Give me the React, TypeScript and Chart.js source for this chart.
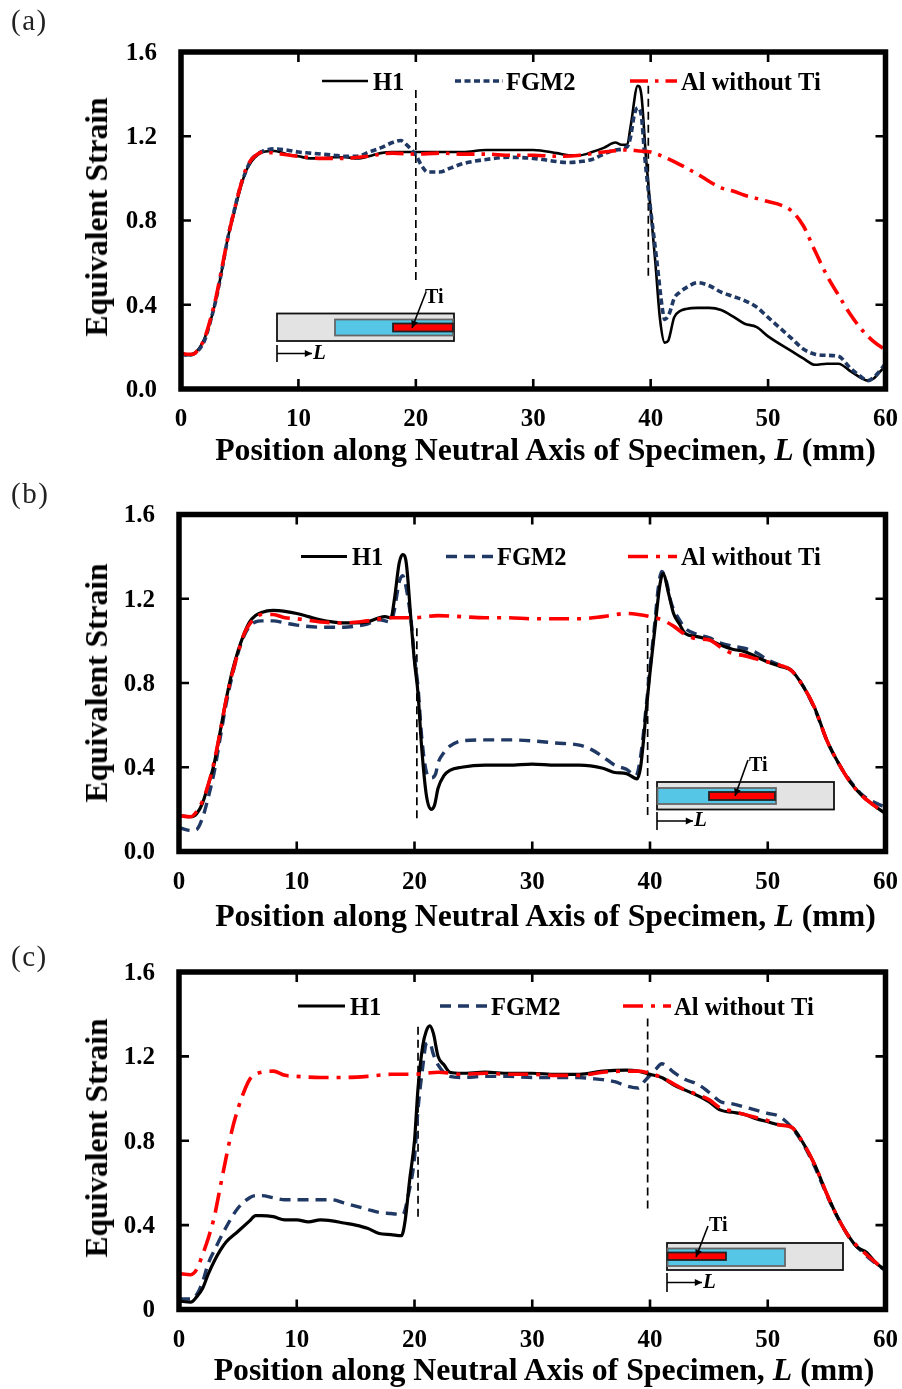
import React, { useEffect, useRef } from "react";
import { Chart, registerables } from "chart.js";

Chart.register(...registerables);

type Pair = [number, number];

const seriesNames = ["H1", "FGM2", "Al without Ti"];
const xTicks = [0, 10, 20, 30, 40, 50, 60];
const yTicks = [0, 0.4, 0.8, 1.2, 1.6];
const yLabelsAB = ["0.0", "0.4", "0.8", "1.2", "1.6"];
const yLabelsC = ["0", "0.4", "0.8", "1.2", "1.6"];
const yTitle = "Equivalent Strain";

const aH1: Pair[] = [[0,.17],[.5,.16],[1,.165],[1.5,.19],[2,.24],[2.5,.32],[3,.43],[3.5,.57],[4,.72],[4.5,.83],[5,.94],[5.5,1.03],[6,1.08],[6.5,1.11],[7,1.125],[8,1.13],[9,1.115],[10,1.105],[11,1.095],[12,1.095],[13,1.1],[14,1.1],[15,1.095],[16,1.105],[17,1.12],[18,1.125],[20,1.125],[22,1.125],[24,1.125],[26,1.135],[28,1.135],[30,1.135],[32,1.12],[33,1.11],[34,1.11],[35,1.125],[36,1.145],[37,1.17],[37.5,1.16],[38,1.16],[38.3,1.25],[38.9,1.44],[39.2,1.4],[39.6,1.1],[40,.85],[40.4,.6],[40.8,.33],[41.2,.22],[41.5,.23],[42,.34],[42.5,.37],[43,.38],[44,.385],[45,.385],[46,.375],[47,.345],[48,.31],[49,.295],[50,.25],[52,.18],[53,.145],[54,.115],[55,.12],[56,.12],[57,.085],[58,.05],[58.5,.04],[59,.05],[59.5,.08],[60,.11]];
const aFGM: Pair[] = [[0,.17],[.5,.16],[1,.165],[1.5,.185],[2,.23],[2.5,.32],[3,.43],[3.5,.57],[4,.72],[4.5,.84],[5,.95],[5.5,1.03],[6,1.09],[6.5,1.115],[7,1.13],[8,1.14],[9,1.135],[10,1.125],[11,1.12],[12,1.115],[13,1.11],[14,1.105],[15,1.105],[16,1.125],[17,1.145],[18,1.17],[18.7,1.18],[19.2,1.16],[20,1.11],[20.5,1.06],[21,1.03],[22,1.03],[23,1.05],[24,1.07],[26,1.09],[28,1.1],[30,1.095],[32,1.08],[33,1.075],[34,1.08],[35,1.09],[36,1.115],[37,1.135],[38,1.15],[38.3,1.2],[38.6,1.3],[38.9,1.335],[39.2,1.3],[39.5,1.1],[40,.85],[40.5,.62],[41,.38],[41.2,.33],[41.6,.36],[42,.43],[42.5,.46],[43,.48],[44,.505],[45,.49],[46,.46],[47,.44],[48,.42],[49,.39],[50,.34],[51,.29],[52,.24],[53,.19],[54,.165],[55,.16],[56,.155],[57,.1],[58,.055],[58.5,.04],[59,.055],[59.5,.085],[60,.12]];
const aAl: Pair[] = [[0,.17],[.5,.165],[1,.165],[1.5,.19],[2,.24],[2.5,.33],[3,.44],[3.5,.58],[4,.72],[4.5,.84],[5,.95],[5.5,1.04],[6,1.09],[6.5,1.115],[7,1.125],[8,1.12],[10,1.105],[12,1.095],[14,1.095],[15,1.1],[16,1.105],[17,1.115],[18,1.12],[20,1.115],[22,1.12],[24,1.115],[26,1.115],[28,1.11],[30,1.11],[32,1.105],[34,1.11],[36,1.125],[38,1.135],[39,1.13],[40,1.125],[41,1.105],[42,1.08],[43,1.05],[44,1.02],[45,.985],[46,.955],[47,.94],[48,.92],[49,.905],[50,.89],[51,.875],[52,.845],[53,.775],[54,.655],[55,.54],[56,.445],[57,.355],[58,.28],[59,.225],[60,.185]];

const bH1: Pair[] = [[0,.17],[1,.165],[1.5,.18],[2,.23],[2.5,.32],[3,.42],[3.5,.57],[4,.72],[4.5,.85],[5,.95],[5.5,1.03],[6,1.09],[6.5,1.12],[7,1.135],[8,1.145],[9,1.14],[10,1.13],[11,1.115],[12,1.1],[13,1.09],[14,1.085],[15,1.085],[16,1.09],[17,1.11],[17.5,1.115],[18,1.11],[18.3,1.2],[18.7,1.37],[19,1.41],[19.3,1.37],[19.7,1.1],[20,.9],[20.3,.75],[20.6,.5],[21,.27],[21.4,.2],[21.7,.22],[22,.3],[22.5,.36],[23,.385],[24,.4],[26,.41],[28,.41],[30,.415],[32,.41],[34,.41],[36,.395],[37,.375],[38,.37],[38.9,.345],[39.2,.4],[39.7,.68],[40,.85],[40.4,1.05],[40.8,1.25],[41.1,1.32],[41.6,1.22],[42,1.13],[42.5,1.08],[43,1.035],[44,1.02],[45,1.005],[46,.98],[47,.96],[48,.95],[49,.925],[50,.9],[51,.88],[52,.86],[53,.785],[54,.68],[55,.53],[56,.42],[57,.33],[58,.265],[59,.22],[60,.18]];
const bFGM: Pair[] = [[0,.115],[.5,.105],[1,.1],[1.5,.105],[2,.16],[2.5,.26],[3,.38],[3.5,.54],[4,.7],[4.5,.83],[5,.94],[5.5,1.02],[6,1.07],[6.5,1.09],[7,1.095],[8,1.095],[9,1.085],[10,1.075],[12,1.065],[14,1.065],[15,1.07],[16,1.08],[17,1.1],[18,1.09],[18.3,1.15],[18.7,1.28],[19,1.31],[19.3,1.25],[19.7,1.1],[20,.92],[20.3,.78],[20.6,.55],[21,.38],[21.4,.35],[21.8,.37],[22,.42],[22.5,.47],[23,.5],[24,.525],[26,.53],[28,.53],[30,.525],[32,.515],[34,.505],[35,.485],[36,.45],[37,.41],[38,.39],[38.8,.36],[39.2,.45],[39.7,.7],[40,.87],[40.4,1.08],[40.7,1.25],[41,1.33],[41.4,1.28],[41.8,1.18],[42.5,1.1],[43,1.06],[44,1.03],[45,1.015],[46,.99],[47,.975],[48,.965],[49,.945],[50,.91],[51,.885],[52,.86],[53,.785],[54,.675],[55,.53],[56,.42],[57,.335],[58,.27],[59,.235],[60,.21]];
const bAl: Pair[] = [[0,.17],[1,.165],[1.5,.19],[2,.24],[2.5,.32],[3,.43],[3.5,.57],[4,.72],[4.5,.84],[5,.94],[5.5,1.03],[6,1.08],[6.5,1.11],[7,1.125],[8,1.125],[9,1.11],[10,1.105],[12,1.09],[14,1.085],[16,1.095],[18,1.11],[20,1.11],[22,1.12],[24,1.115],[26,1.11],[28,1.11],[30,1.105],[32,1.105],[34,1.105],[36,1.115],[38,1.13],[39,1.125],[40,1.115],[41,1.1],[42,1.07],[43,1.03],[44,1.01],[45,1.005],[46,.97],[47,.94],[48,.93],[49,.915],[50,.9],[51,.885],[52,.86],[53,.785],[54,.68],[55,.53],[56,.42],[57,.33],[58,.265],[59,.22],[60,.18]];

const cH1: Pair[] = [[0,.04],[1,.035],[1.5,.06],[2,.1],[2.5,.17],[3,.23],[3.5,.28],[4,.32],[5,.37],[6,.42],[6.5,.445],[7,.445],[8,.44],[9,.425],[10,.425],[11,.415],[12,.425],[13,.42],[14,.41],[15,.4],[16,.385],[17,.36],[18,.355],[18.9,.35],[19.2,.42],[19.6,.62],[20,.8],[20.3,1.05],[20.7,1.25],[21,1.32],[21.3,1.345],[21.6,1.31],[22,1.2],[22.5,1.16],[23,1.125],[24,1.12],[26,1.125],[28,1.12],[30,1.12],[32,1.115],[34,1.115],[36,1.13],[38,1.135],[39,1.13],[40,1.115],[41,1.1],[42,1.065],[43,1.04],[44,1.015],[45,.985],[46,.945],[47,.935],[48,.925],[49,.905],[50,.89],[51,.875],[52,.865],[53,.79],[54,.685],[55,.55],[56,.43],[57,.337],[57.6,.295],[58.4,.27],[59.2,.22],[60,.187]];
const cFGM: Pair[] = [[0,.05],[1,.05],[1.5,.07],[2,.13],[2.5,.22],[3,.28],[4,.39],[5,.48],[6,.53],[6.5,.54],[7,.54],[8,.53],[9,.52],[10,.52],[12,.52],[13,.52],[14,.505],[15,.49],[16,.475],[17,.46],[18,.455],[19,.45],[19.5,.55],[20,.72],[20.3,.95],[20.7,1.15],[21,1.26],[21.3,1.265],[21.6,1.21],[22,1.16],[23,1.105],[24,1.1],[26,1.105],[28,1.105],[30,1.1],[32,1.1],[34,1.1],[35,1.095],[36,1.09],[37,1.08],[38,1.06],[39,1.05],[39.5,1.08],[40,1.11],[40.5,1.14],[41,1.165],[41.5,1.15],[42,1.125],[43,1.09],[44,1.07],[45,1.03],[46,.985],[47,.975],[48,.96],[49,.945],[50,.93],[51,.915],[52,.865],[53,.785],[54,.675],[55,.545],[56,.43],[57,.335],[58,.275],[59,.225],[60,.185]];
const cAl: Pair[] = [[0,.17],[1,.165],[1.5,.19],[2,.26],[2.5,.34],[3,.44],[3.5,.58],[4,.72],[4.5,.85],[5,.95],[5.5,1.03],[6,1.09],[6.5,1.115],[7,1.125],[8,1.13],[9,1.11],[10,1.105],[12,1.1],[14,1.1],[16,1.105],[18,1.115],[20,1.115],[21,1.12],[22,1.125],[24,1.115],[26,1.12],[28,1.115],[30,1.115],[32,1.11],[34,1.11],[36,1.125],[38,1.13],[39,1.13],[40,1.12],[41,1.1],[42,1.07],[43,1.04],[44,1.02],[45,.995],[46,.955],[47,.94],[48,.925],[49,.91],[50,.895],[51,.875],[52,.865],[53,.79],[54,.685],[55,.55],[56,.43],[57,.337],[58,.28],[59,.23],[60,.185]];

const aGuides: Pair[][] = [[[20,1.42],[20,.5]],[[39.8,1.44],[39.8,.53]]];
const bGuides: Pair[][] = [[[20.2,1.06],[20.2,.145]],[[39.8,1.075],[39.8,.165]]];
const cGuides: Pair[][] = [[[20.3,1.34],[20.3,.44]],[[39.8,1.38],[39.8,.47]]];

const SERIF = '"Liberation Serif", serif';
const BLACK = "#000000";
const NAVY = "#1f3864";
const RED = "#ff0000";

interface Panel {
  key: string; label: string; labelY: number; titleX: number; titleY: number; yTitleY: number;
  top: number; height: number; plot: { l: number; r: number; t: number; b: number };
  h1: Pair[]; fgm: Pair[]; al: Pair[]; guides: Pair[][]; yLabels: string[];
  h1W: number; fgmDash: number[]; alDash: number[];
  legendY: number;
  legend: { l0: number; l1: number; tx: number }[];
  inset: { gx0: number; gx1: number; gy0: number; gy1: number; bx0: number; bx1: number; by0: number; by1: number; rx0: number; rx1: number; ry0: number; ry1: number; tiX: number; tiY: number; a0: Pair; a1: Pair; Lx: number; Ly0: number; Ly1: number; Lend: number };
}

const panels: Panel[] = [
  { key: "a", label: "(a)", labelY: 20, titleX: 545.5, titleY: 450, yTitleY: 216.5, top: 0, height: 465,
    plot: { l: 181, r: 885.5, t: 52, b: 389 }, h1: aH1, fgm: aFGM, al: aAl, guides: aGuides, yLabels: yLabelsAB,
    h1W: 2.6, fgmDash: [6, 3.5], alDash: [18, 7, 3.5, 7], legendY: 81,
    legend: [{ l0: 322, l1: 368, tx: 373 }, { l0: 455, l1: 503, tx: 506 }, { l0: 630, l1: 677, tx: 681 }],
    inset: { gx0: 277, gx1: 454, gy0: 313.5, gy1: 341, bx0: 335, bx1: 453, by0: 319.5, by1: 335.5, rx0: 393, rx1: 453, ry0: 323.5, ry1: 331.5, tiX: 425, tiY: 298, a0: [426, 292], a1: [412, 328], Lx: 277, Ly0: 345, Ly1: 362, Lend: 312 } },
  { key: "b", label: "(b)", labelY: 493, titleX: 545.5, titleY: 916, yTitleY: 682.5, top: 465, height: 465,
    plot: { l: 179, r: 885.5, t: 514.5, b: 851.5 }, h1: bH1, fgm: bFGM, al: bAl, guides: bGuides, yLabels: yLabelsAB,
    h1W: 3.2, fgmDash: [11, 7], alDash: [20, 8, 4, 8], legendY: 556.5,
    legend: [{ l0: 301, l1: 347, tx: 352 }, { l0: 446, l1: 494, tx: 497 }, { l0: 628, l1: 677, tx: 681 }],
    inset: { gx0: 657, gx1: 834, gy0: 782, gy1: 809.5, bx0: 657.5, bx1: 776, by0: 788, by1: 804, rx0: 709, rx1: 775, ry0: 792, ry1: 800, tiX: 749, tiY: 766, a0: [748, 760], a1: [735, 796], Lx: 657, Ly0: 812, Ly1: 830, Lend: 693 } },
  { key: "c", label: "(c)", labelY: 956, titleX: 544, titleY: 1370, yTitleY: 1138, top: 930, height: 459,
    plot: { l: 179, r: 885.5, t: 972, b: 1309.5 }, h1: cH1, fgm: cFGM, al: cAl, guides: cGuides, yLabels: yLabelsC,
    h1W: 3.2, fgmDash: [11, 7], alDash: [20, 8, 4, 8], legendY: 1006,
    legend: [{ l0: 298, l1: 345, tx: 350 }, { l0: 440, l1: 489, tx: 491 }, { l0: 623, l1: 671, tx: 674 }],
    inset: { gx0: 667, gx1: 843, gy0: 1243, gy1: 1270, bx0: 667.5, bx1: 785, by0: 1248.5, by1: 1266, rx0: 667.5, rx1: 726, ry0: 1252.5, ry1: 1260, tiX: 709, tiY: 1226, a0: [708, 1226], a1: [696, 1257], Lx: 667, Ly0: 1273, Ly1: 1292, Lend: 702 } },
];

function toPoints(list: Pair[]) {
  return list.map(([x, y]) => ({ x, y }));
}

function arrowHead(ctx: CanvasRenderingContext2D, x0: number, y0: number, x1: number, y1: number, size: number) {
  const a = Math.atan2(y1 - y0, x1 - x0);
  ctx.beginPath();
  ctx.moveTo(x1, y1);
  ctx.lineTo(x1 - size * Math.cos(a - 0.45), y1 - size * Math.sin(a - 0.45));
  ctx.lineTo(x1 - size * Math.cos(a + 0.45), y1 - size * Math.sin(a + 0.45));
  ctx.closePath();
  ctx.fill();
}

function makeDecor(p: Panel) {
  const off = p.top;
  return {
    id: "decor" + p.key,
    afterDatasetsDraw(chart: any) {
      const ctx: CanvasRenderingContext2D = chart.ctx;
      const { left, right, top, bottom } = chart.chartArea;
      const xs = chart.scales.x;
      const ys = chart.scales.y;
      ctx.save();
      // inward tick marks on all four sides
      ctx.strokeStyle = "#000";
      ctx.lineWidth = 2.6;
      ctx.setLineDash([]);
      const tl = 10;
      xTicks.slice(1, -1).forEach((v) => {
        const px = xs.getPixelForValue(v);
        ctx.beginPath();
        ctx.moveTo(px, top); ctx.lineTo(px, top + tl);
        ctx.moveTo(px, bottom); ctx.lineTo(px, bottom - tl);
        ctx.stroke();
      });
      yTicks.slice(1, -1).forEach((v) => {
        const py = ys.getPixelForValue(v);
        ctx.beginPath();
        ctx.moveTo(left, py); ctx.lineTo(left + tl, py);
        ctx.moveTo(right, py); ctx.lineTo(right - tl, py);
        ctx.stroke();
      });
      // frame
      ctx.lineWidth = 5.5;
      ctx.strokeRect(left, top, right - left, bottom - top);

      // legend
      const styles = [
        { c: BLACK, w: p.h1W, d: [] as number[] },
        { c: NAVY, w: 3.4, d: p.fgmDash },
        { c: RED, w: 3.6, d: p.alDash },
      ];
      ctx.font = `bold 24.5px ${SERIF}`;
      ctx.textBaseline = "middle";
      ctx.textAlign = "left";
      p.legend.forEach((it, i) => {
        const ly = p.legendY - off;
        ctx.strokeStyle = styles[i].c;
        ctx.lineWidth = styles[i].w;
        ctx.setLineDash(styles[i].d);
        ctx.beginPath();
        ctx.moveTo(it.l0, ly); ctx.lineTo(it.l1, ly);
        ctx.stroke();
        ctx.setLineDash([]);
        ctx.fillStyle = "#000";
        ctx.fillText(seriesNames[i], it.tx, ly + 2.5);
      });

      // specimen inset
      const s = p.inset;
      ctx.lineWidth = 1.8;
      ctx.fillStyle = "#e3e3e3";
      ctx.strokeStyle = "#111";
      ctx.fillRect(s.gx0, s.gy0 - off, s.gx1 - s.gx0, s.gy1 - s.gy0);
      ctx.strokeRect(s.gx0, s.gy0 - off, s.gx1 - s.gx0, s.gy1 - s.gy0);
      ctx.fillStyle = "#55c6e6";
      ctx.strokeStyle = "#666";
      ctx.fillRect(s.bx0, s.by0 - off, s.bx1 - s.bx0, s.by1 - s.by0);
      ctx.strokeRect(s.bx0, s.by0 - off, s.bx1 - s.bx0, s.by1 - s.by0);
      ctx.fillStyle = RED;
      ctx.strokeStyle = "#222";
      ctx.fillRect(s.rx0, s.ry0 - off, s.rx1 - s.rx0, s.ry1 - s.ry0);
      ctx.strokeRect(s.rx0, s.ry0 - off, s.rx1 - s.rx0, s.ry1 - s.ry0);
      ctx.strokeStyle = "#000";
      ctx.fillStyle = "#000";
      ctx.lineWidth = 1.6;
      ctx.beginPath();
      ctx.moveTo(s.a0[0], s.a0[1] - off);
      ctx.lineTo(s.a1[0], s.a1[1] - off);
      ctx.stroke();
      arrowHead(ctx, s.a0[0], s.a0[1] - off, s.a1[0], s.a1[1] - off, 8);
      const midL = (s.Ly0 + s.Ly1) / 2 - off;
      ctx.beginPath();
      ctx.moveTo(s.Lx, s.Ly0 - off); ctx.lineTo(s.Lx, s.Ly1 - off);
      ctx.moveTo(s.Lx, midL); ctx.lineTo(s.Lend, midL);
      ctx.stroke();
      arrowHead(ctx, s.Lx, midL, s.Lend, midL, 8);
      ctx.font = `bold 20px ${SERIF}`;
      ctx.fillText("Ti", s.tiX, s.tiY - off);
      ctx.font = `italic bold 21px ${SERIF}`;
      ctx.fillText("L", s.Lend + 1, midL);
      ctx.restore();
    },
  };
}

function PanelChart({ p }: { p: Panel }) {
  const ref = useRef<HTMLCanvasElement | null>(null);
  useEffect(() => {
    if (!ref.current) return;
    const W = 902;
    const yW = 60;
    const xH = 50;
    const plotTop = p.plot.t - p.top;
    const plotBottom = p.plot.b - p.top;
    const chart = new Chart(ref.current, {
      type: "line",
      data: {
        datasets: [
          ...p.guides.map((g, i) => ({
            label: "guide" + i, data: toPoints(g), borderColor: "#000", borderWidth: 1.7,
            borderDash: [8, 5], pointRadius: 0, order: 4, tension: 0,
          })),
          { label: seriesNames[0], data: toPoints(p.h1), borderColor: BLACK, borderWidth: p.h1W, pointRadius: 0, order: p.key === "a" ? 3 : 2, cubicInterpolationMode: "monotone" },
          { label: seriesNames[1], data: toPoints(p.fgm), borderColor: NAVY, borderWidth: p.key === "a" ? 3.6 : 3.4, borderDash: p.fgmDash, pointRadius: 0, order: p.key === "a" ? 2 : 3, cubicInterpolationMode: "monotone" },
          { label: seriesNames[2], data: toPoints(p.al), borderColor: RED, borderWidth: 3.6, borderDash: p.alDash, pointRadius: 0, order: 1, cubicInterpolationMode: "monotone" },
        ] as any,
      },
      options: {
        animation: false,
        responsive: false,
        maintainAspectRatio: false,
        layout: { padding: { left: p.plot.l - yW, right: W - p.plot.r, top: plotTop, bottom: p.height - plotBottom - xH } },
        plugins: { legend: { display: false }, tooltip: { enabled: false }, title: { display: false } },
        scales: {
          x: {
            type: "linear", min: 0, max: 60,
            afterFit: (s: any) => { s.height = xH; s.paddingLeft = 0; s.paddingRight = 0; },
            afterBuildTicks: (s: any) => { s.ticks = xTicks.map((value) => ({ value })); },
            grid: { display: false },
            border: { display: false },
            ticks: { color: "#000", font: { family: SERIF, weight: "bold", size: 25 }, padding: 8, maxRotation: 0, autoSkip: false },
          },
          y: {
            type: "linear", min: 0, max: 1.6,
            afterFit: (s: any) => { s.width = yW; s.paddingTop = 0; s.paddingBottom = 0; },
            afterBuildTicks: (s: any) => { s.ticks = yTicks.map((value) => ({ value })); },
            grid: { display: false },
            border: { display: false },
            title: { display: false },
            ticks: {
              color: "#000", font: { family: SERIF, weight: "bold", size: 25 }, padding: 16, labelOffset: 1.5, autoSkip: false,
              callback: (v: any) => p.yLabels[yTicks.indexOf(Number(v))] ?? "",
            },
          },
        },
      } as any,
      plugins: [makeDecor(p)],
    });
    return () => chart.destroy();
  }, [p]);
  return <canvas ref={ref} width={902} height={p.height} style={{ position: "absolute", left: 0, top: p.top, display: "block" }} />;
}

export default function App() {
  return (
    <div style={{ position: "absolute", left: 0, top: 0, width: 902, height: 1389, background: "#fff", overflow: "hidden", fontFamily: SERIF, color: "#000" }}>
      {panels.map((p) => (
        <React.Fragment key={p.key}>
          <PanelChart p={p} />
          <div style={{ position: "absolute", left: 11, top: p.labelY - 18, height: 36, lineHeight: "36px", fontSize: 29, letterSpacing: 1.5, color: "#222" }}>{p.label}</div>
          <div style={{ position: "absolute", left: 97, top: p.yTitleY, width: 0, height: 0 }}>
            <div style={{ position: "absolute", transform: "translate(-50%,-50%) rotate(-90deg)", whiteSpace: "nowrap", fontSize: 31.5, fontWeight: "bold", lineHeight: "36px" }}>{yTitle}</div>
          </div>
          <div style={{ position: "absolute", left: p.titleX, top: p.titleY, width: 0, height: 0 }}>
            <div style={{ position: "absolute", transform: "translate(-50%,-50%)", whiteSpace: "nowrap", fontSize: 31.8, fontWeight: "bold", lineHeight: "38px" }}>
              Position along Neutral Axis of Specimen, <i>L</i> (mm)
            </div>
          </div>
        </React.Fragment>
      ))}
    </div>
  );
}
